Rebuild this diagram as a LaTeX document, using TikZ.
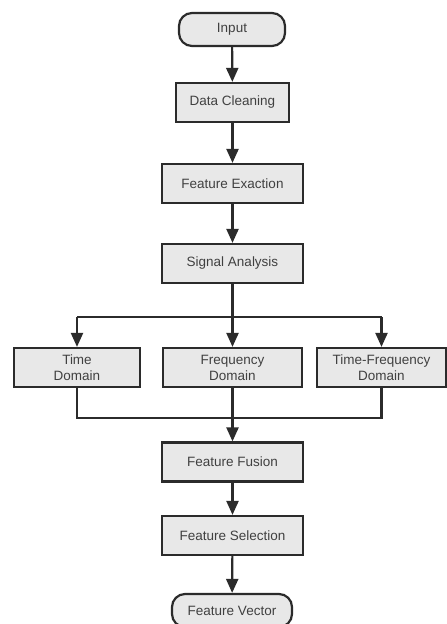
\documentclass[tikz,border=0pt]{standalone}
\usepackage{fontspec}
\setmainfont{Liberation Sans}
\usetikzlibrary{arrows.meta}
\definecolor{boxfill}{HTML}{E8E8E8}
\definecolor{linec}{HTML}{2B2B2B}
\begin{document}
\begin{tikzpicture}[x=1pt,y=-1pt,
  base/.style={draw=linec, line width=2.2pt, fill=boxfill, inner sep=0pt,
    font=\fontsize{13.5pt}{16pt}\selectfont, text=linec!90, align=center},
  procbox/.style={base, rectangle, minimum height=39pt},
  termbox/.style={base, rounded corners=13pt, minimum height=33pt},
  conn/.style={draw=linec, line width=2.2pt},
  arr/.style={conn, -{Triangle[length=14pt,width=12pt]}}]
\useasboundingbox (0,0) rectangle (447,624);
\node[termbox, minimum width=106pt] (in) at (232,29.5) {Input};
\node[procbox, minimum width=113pt] (dc) at (232.5,102.5) {Data Cleaning};
\node[procbox, minimum width=141pt] (fe) at (232.5,183.5) {Feature Exaction};
\node[procbox, minimum width=141pt] (sa) at (232.5,263.5) {Signal Analysis};
\node[procbox, minimum width=126pt] (td) at (77,367.5) {Time\\Domain};
\node[procbox, minimum width=139pt] (fd) at (232.5,367.5) {Frequency\\Domain};
\node[procbox, minimum width=129pt] (tf) at (381.5,367.5) {Time-Frequency\\Domain};
\node[procbox, minimum width=141pt] (ff) at (232.5,462) {Feature Fusion};
\node[procbox, minimum width=141pt] (fs) at (232.5,535.5) {Feature Selection};
\node[termbox, minimum width=120pt] (fv) at (232,610.5) {Feature Vector};
\coordinate (split) at (232.5,317);
\coordinate (merge) at (232.5,418);
\draw[arr] (in) -- (dc);
\draw[arr] (dc) -- (fe);
\draw[arr] (fe) -- (sa);
\draw[arr] (sa) -- (fd);
\draw[conn] (td.north |- split) -- (tf.north |- split);
\draw[arr] (td.north |- split) -- (td.north);
\draw[arr] (tf.north |- split) -- (tf.north);
\draw[conn] (td.south) -- (td.south |- merge) -- (tf.south |- merge) -- (tf.south);
\draw[arr] (fd.south) -- (ff.north);
\draw[arr] (ff) -- (fs);
\draw[arr] (fs) -- (fv);
\end{tikzpicture}
\end{document}
